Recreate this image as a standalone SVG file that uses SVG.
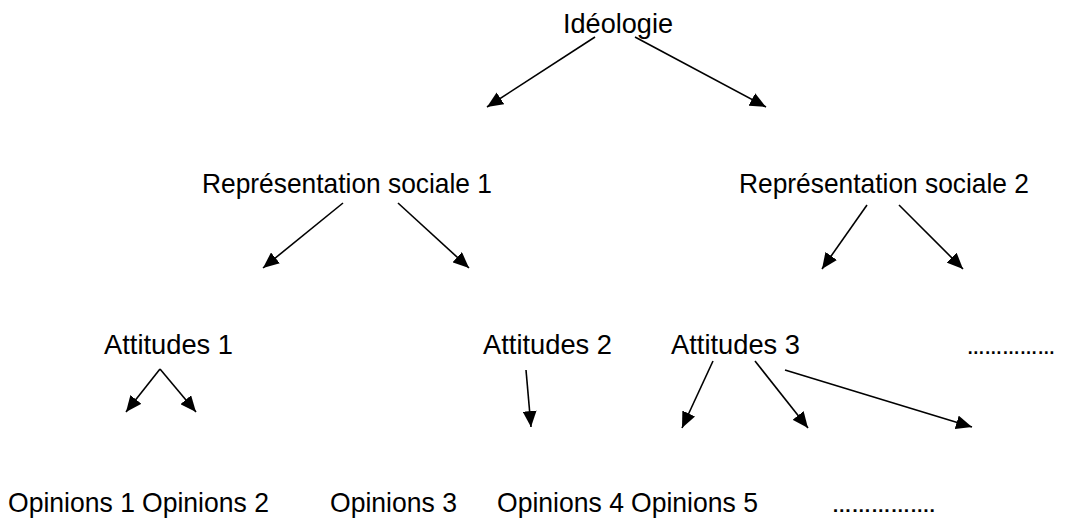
<svg xmlns="http://www.w3.org/2000/svg" width="1069" height="520" viewBox="0 0 1069 520">
<style>
text{font-family:"Liberation Sans",Arial,sans-serif;font-size:28px;fill:#000}
text.dots{font-size:18px;font-weight:bold}
.c line{stroke:#000;stroke-width:1.6;fill:none;marker-end:url(#ah)}
</style>
<defs>
<marker id="ah" markerUnits="userSpaceOnUse" markerWidth="16" markerHeight="14" refX="16" refY="7" orient="auto" viewBox="0 0 16 14">
<path d="M0,0 L16,7 L0,14 z" fill="#000"/>
</marker>
</defs>
<rect width="1069" height="520" fill="#fff"/>
<g id="n-ideologie"><text x="563" y="33" textLength="110" lengthAdjust="spacingAndGlyphs">Idéologie</text></g>
<g id="n-rep1"><text x="202" y="193" textLength="290" lengthAdjust="spacingAndGlyphs">Représentation sociale 1</text></g>
<g id="n-rep2"><text x="739" y="193" textLength="290" lengthAdjust="spacingAndGlyphs">Représentation sociale 2</text></g>
<g id="n-att1"><text x="104" y="354" textLength="129" lengthAdjust="spacingAndGlyphs">Attitudes 1</text></g>
<g id="n-att2"><text x="483" y="354" textLength="129" lengthAdjust="spacingAndGlyphs">Attitudes 2</text></g>
<g id="n-att3"><text x="671" y="354" textLength="129" lengthAdjust="spacingAndGlyphs">Attitudes 3</text></g>
<g id="n-attdots"><text class="dots" x="967" y="354" textLength="88" lengthAdjust="spacingAndGlyphs">……………</text></g>
<g id="n-op1"><text x="8" y="512" textLength="127" lengthAdjust="spacingAndGlyphs">Opinions 1</text></g>
<g id="n-op2"><text x="142" y="512" textLength="127" lengthAdjust="spacingAndGlyphs">Opinions 2</text></g>
<g id="n-op3"><text x="330" y="512" textLength="127" lengthAdjust="spacingAndGlyphs">Opinions 3</text></g>
<g id="n-op4"><text x="497" y="512" textLength="127" lengthAdjust="spacingAndGlyphs">Opinions 4</text></g>
<g id="n-op5"><text x="631" y="512" textLength="127" lengthAdjust="spacingAndGlyphs">Opinions 5</text></g>
<g id="n-opdots"><text class="dots" x="832" y="512" textLength="103" lengthAdjust="spacingAndGlyphs">…………….</text></g>
<g id="connectors" class="c">
<line x1="595" y1="37" x2="487" y2="107"/>
<line x1="635" y1="37" x2="766" y2="107"/>
<line x1="343" y1="203" x2="263" y2="268"/>
<line x1="398" y1="203" x2="469" y2="268"/>
<line x1="867" y1="205" x2="822" y2="269"/>
<line x1="899" y1="205" x2="963" y2="269"/>
<line x1="160" y1="369" x2="126" y2="412"/>
<line x1="160" y1="369" x2="196" y2="412"/>
<line x1="526" y1="370" x2="531" y2="427"/>
<line x1="713" y1="361" x2="682" y2="428"/>
<line x1="755" y1="361" x2="808" y2="428"/>
<line x1="785" y1="370" x2="972" y2="427"/>
</g>
</svg>
